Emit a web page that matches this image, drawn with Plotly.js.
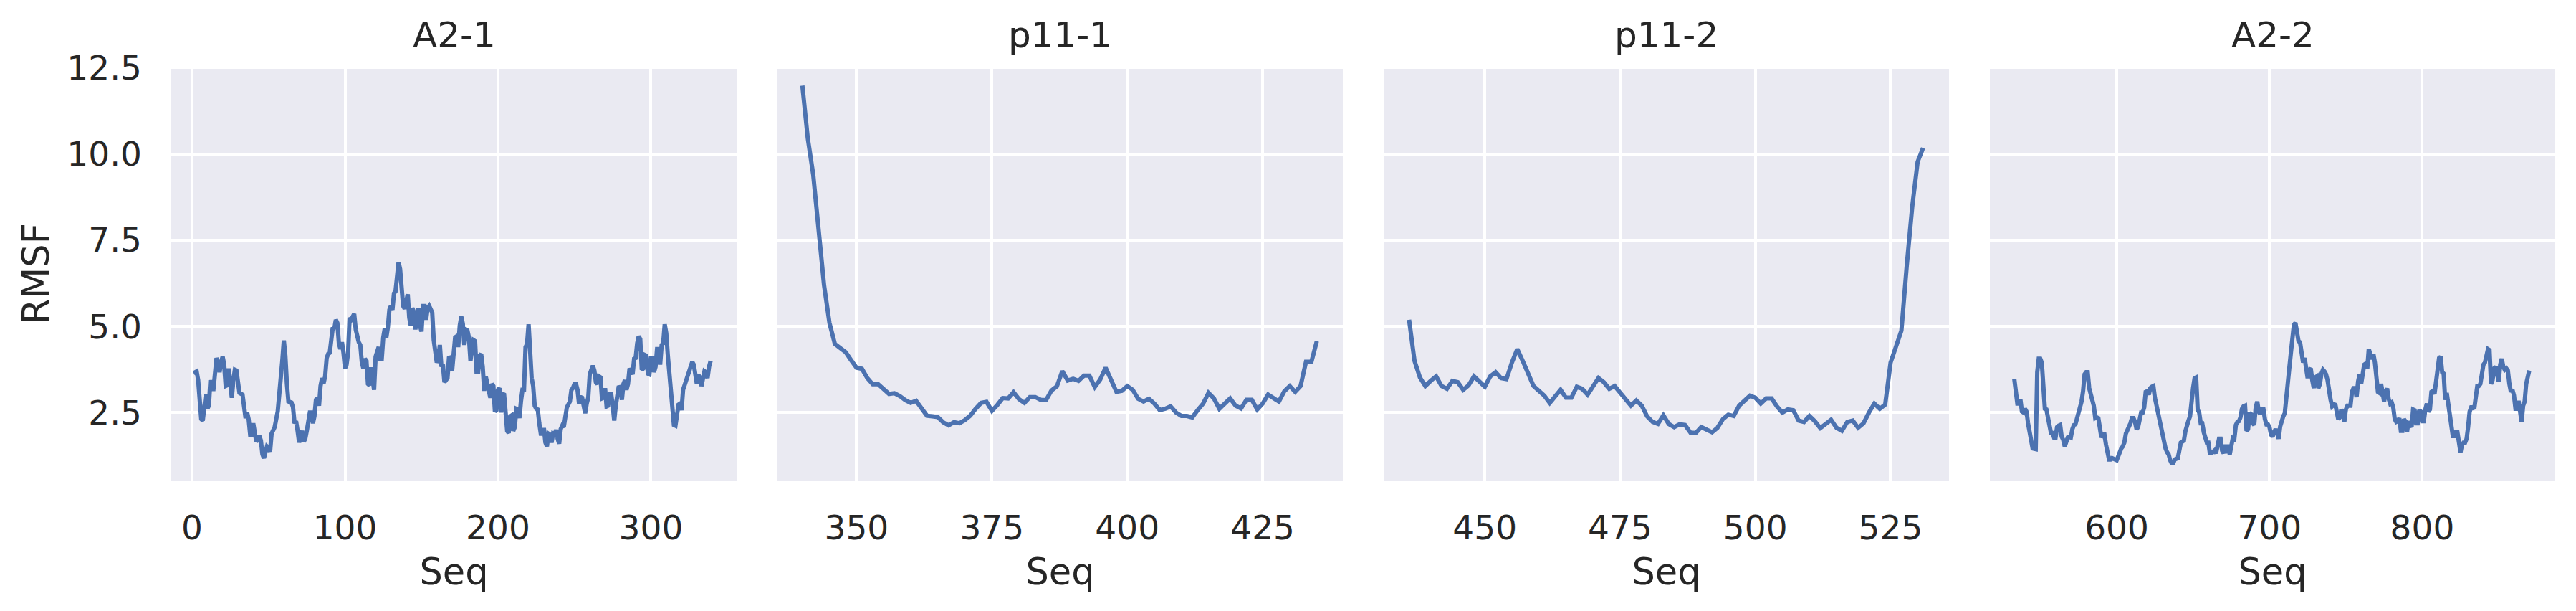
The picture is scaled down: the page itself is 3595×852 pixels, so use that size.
<!DOCTYPE html>
<html>
<head>
<meta charset="utf-8">
<script src="https://cdn.plot.ly/plotly-3.0.1.min.js"></script>
<style>html,body{margin:0;padding:0;background:#fff;}#chart{width:3595px;height:852px;}</style>
</head>
<body>
<div id="chart"></div>
<script>
// ---- Data ----
const panelTitles = ["A2-1", "p11-1", "p11-2", "A2-2"];

const seqA21 = [1,3,4,5,6,7,8,9,10,11,12,13,14,16,17,18,19,20,21,22,23,24,25,26,27,28,29,30,31,33,34,35,36,37,38,39,40,41,42,43,44,45,46,47,48,49,50,51,52,53,54,56,57,58,59,60,61,62,63,65,66,67,68,69,70,71,72,73,74,75,77,78,79,80,81,82,83,84,85,86,87,88,89,90,91,92,93,94,95,96,97,98,99,100,101,102,103,104,106,107,109,110,111,112,113,114,115,116,117,118,119,120,122,123,124,125,126,127,128,129,130,131,132,133,134,135,136,137,138,139,141,142,143,144,145,146,147,148,149,150,151,152,153,154,155,157,158,159,160,161,162,163,164,165,167,168,169,170,171,172,173,174,175,176,177,178,179,180,181,182,184,185,186,187,188,189,190,191,192,194,195,196,197,198,199,200,201,202,203,204,205,206,207,208,209,210,211,212,213,214,215,216,217,218,219,220,221,222,223,224,225,226,227,228,229,230,231,232,233,234,235,236,237,238,239,240,241,242,243,244,245,247,248,249,250,251,252,253,254,255,256,257,258,259,260,261,262,263,264,265,266,267,268,269,270,271,272,273,274,275,276,277,278,279,280,281,282,283,284,285,286,287,288,289,290,291,292,293,294,295,296,297,298,299,300,301,302,303,304,305,306,307,308,309,310,311,312,313,314,315,316,317,318,319,320,321,322,323,324,325,326,327,328,329,330,331,332,333,334,335,336,337,338,339];
const rmsfA21 = [3.64,3.69,3.44,2.82,2.31,2.27,2.82,3.02,2.61,2.70,3.44,3.18,3.18,4.08,3.95,3.67,3.97,4.12,3.89,3.27,3.29,3.78,3.33,2.93,3.44,3.74,3.72,3.33,3.07,3.02,2.53,2.34,2.50,2.31,1.86,1.86,2.19,1.78,1.66,1.71,1.82,1.69,1.29,1.18,1.35,1.52,1.48,1.37,1.89,2.02,2.08,2.53,2.93,3.38,4.00,4.59,4.15,3.33,2.82,2.79,2.65,2.19,2.25,1.97,1.63,1.82,1.97,1.66,1.74,1.97,2.50,2.50,2.19,2.39,2.87,2.91,2.70,3.27,3.50,3.35,3.55,4.08,4.20,4.23,4.74,4.97,4.93,5.19,5.10,4.51,4.34,4.54,4.23,3.78,3.89,4.23,5.25,5.19,5.36,4.91,4.54,4.46,3.95,3.78,4.06,4.00,3.33,3.29,3.81,3.55,3.16,4.12,4.40,4.06,4.06,4.68,4.94,4.68,4.97,5.48,5.59,5.48,5.96,6.01,6.49,6.86,6.66,6.04,5.59,5.51,5.93,5.25,5.02,5.53,5.42,4.91,5.31,5.53,5.02,4.85,5.59,5.59,5.19,5.53,5.59,5.40,4.60,4.10,3.95,4.05,4.46,3.83,3.89,3.38,3.50,4.12,4.08,3.72,4.08,4.68,4.71,4.40,5.02,5.28,5.08,4.46,4.91,4.88,4.68,4.00,4.60,4.57,3.67,3.67,4.15,4.20,3.83,3.13,3.55,3.16,2.93,3.33,3.27,2.53,2.57,3.16,3.21,2.50,3.04,3.02,2.48,1.97,1.91,2.39,2.42,1.97,2.08,2.61,2.59,2.34,2.82,3.16,3.16,4.40,4.49,5.06,4.29,3.50,3.27,2.70,2.61,2.59,2.19,1.89,1.89,2.05,1.63,1.52,1.89,1.86,1.63,1.89,1.86,2.00,1.74,1.60,2.02,2.12,2.08,2.39,2.65,2.82,3.16,3.21,3.33,3.33,3.16,2.76,2.95,2.93,2.61,2.48,2.76,2.93,3.61,3.78,3.86,3.72,3.38,3.33,3.55,3.52,2.91,2.93,3.21,2.68,2.70,3.04,3.04,2.70,2.27,2.70,3.04,3.27,3.21,2.87,3.33,3.44,3.16,3.33,3.78,3.70,3.61,4.06,4.08,4.51,4.71,4.63,3.74,3.78,4.17,4.15,3.63,3.61,4.08,4.08,3.67,3.83,4.34,4.34,3.89,4.46,4.51,5.06,4.80,4.17,3.61,3.10,2.45,2.14,2.12,2.39,2.73,2.76,2.57,3.16,3.29,3.44,3.55,3.67,3.78,3.97,3.89,3.47,3.33,3.59,3.52,3.27,3.44,3.70,3.67,3.50,3.83,4.00];

const seqP111 = [340,341,342,343,344,345,346,347,348,349,350,351,352,353,354,355,356,357,358,359,360,361,362,363,364,365,366,367,368,369,370,371,372,373,374,375,376,377,378,379,380,381,382,383,384,385,386,387,388,389,390,391,392,393,394,395,396,397,398,399,400,401,402,403,404,405,406,407,408,409,410,411,412,413,414,415,416,417,418,419,420,421,422,423,424,425,426,427,428,429,430,431,432,433,434,435];
const rmsfP111 = [11.98,10.45,9.40,7.75,6.20,5.10,4.49,4.37,4.25,4.02,3.80,3.77,3.50,3.32,3.32,3.18,3.04,3.06,2.98,2.86,2.78,2.84,2.63,2.41,2.39,2.37,2.22,2.13,2.22,2.19,2.28,2.41,2.61,2.78,2.81,2.55,2.72,2.92,2.91,3.09,2.89,2.78,2.95,2.95,2.87,2.86,3.14,3.26,3.70,3.43,3.48,3.42,3.57,3.57,3.24,3.46,3.80,3.42,3.10,3.13,3.27,3.16,2.90,2.82,2.90,2.76,2.57,2.61,2.68,2.50,2.40,2.40,2.36,2.57,2.76,3.07,2.91,2.61,2.76,2.91,2.70,2.62,2.87,2.87,2.59,2.76,3.02,2.91,2.82,3.12,3.27,3.10,3.27,3.97,3.97,4.57];

const seqP112 = [436,437,438,439,440,441,442,443,444,445,446,447,448,449,450,451,452,453,454,455,456,457,458,459,460,461,462,463,464,465,466,467,468,469,470,471,472,473,474,475,476,477,478,479,480,481,482,483,484,485,486,487,488,489,490,491,492,493,494,495,496,497,498,499,500,501,502,503,504,505,506,507,508,509,510,511,512,513,514,515,516,517,518,519,520,521,522,523,524,525,526,527,528,529,530,531];
const rmsfP112 = [5.19,4.00,3.52,3.27,3.42,3.55,3.27,3.19,3.42,3.38,3.16,3.29,3.55,3.40,3.25,3.55,3.67,3.50,3.47,3.95,4.34,4.00,3.67,3.27,3.13,2.99,2.78,2.95,3.16,2.93,2.93,3.25,3.19,3.02,3.29,3.50,3.38,3.19,3.27,3.07,2.87,2.70,2.85,2.70,2.39,2.23,2.17,2.42,2.17,2.08,2.16,2.14,1.92,1.91,2.08,1.99,1.93,2.06,2.31,2.44,2.40,2.70,2.85,2.99,2.93,2.76,2.91,2.91,2.68,2.50,2.59,2.57,2.27,2.23,2.40,2.25,2.05,2.16,2.29,2.06,1.97,2.23,2.27,2.06,2.19,2.50,2.76,2.61,2.73,3.95,4.46,4.88,6.78,8.47,9.77,10.17];

const seqA22 = [533,534,535,536,537,538,539,540,541,542,543,544,545,547,548,549,550,551,552,553,554,555,556,557,558,559,560,561,562,563,564,565,566,567,568,569,570,571,572,573,574,575,576,577,578,579,580,581,582,583,584,585,586,587,588,589,590,591,592,593,594,595,596,597,599,600,601,602,603,604,605,606,607,608,609,610,611,612,613,614,615,616,617,618,619,620,621,622,623,624,625,626,627,628,629,630,631,632,633,634,635,636,637,638,640,641,642,643,644,645,646,647,648,649,650,651,652,653,654,655,656,657,658,659,660,661,662,663,664,665,666,667,668,669,670,671,672,673,674,675,676,677,678,679,680,681,682,683,684,685,686,687,688,689,690,691,692,693,694,695,696,697,698,699,700,701,702,703,704,705,706,707,708,709,710,711,712,713,714,715,716,717,718,719,720,721,722,723,724,725,726,727,728,729,730,731,732,733,734,735,736,737,738,739,740,741,742,743,744,745,746,747,748,749,750,751,752,753,754,755,756,757,758,759,760,761,762,763,764,765,766,767,768,769,770,771,772,773,774,775,776,777,778,779,780,781,782,783,784,785,786,787,788,789,790,791,792,793,794,795,796,797,798,799,800,801,802,803,804,805,806,807,808,809,810,811,812,813,814,815,816,817,818,819,820,821,822,823,824,825,826,827,828,829,830,831,832,833,834,835,836,837,838,839,840,841,842,843,844,845,846,847,848,849,850,851,852,853,854,855,856,857,858,859,860,861,862,863,864,865,866,867,868,869,870];
const rmsfA22 = [3.47,3.10,2.76,2.76,2.87,2.53,2.50,2.61,2.53,2.19,1.93,1.63,1.46,1.44,3.67,4.06,4.06,3.95,3.27,2.61,2.59,2.36,2.12,1.91,1.91,1.78,1.78,2.08,2.12,2.14,1.80,1.71,1.52,1.63,1.78,1.80,1.78,2.02,2.14,2.16,2.31,2.57,2.70,2.82,3.12,3.61,3.67,3.67,3.21,3.00,2.93,2.70,2.34,2.36,2.34,1.91,1.78,1.86,1.86,1.57,1.40,1.14,1.14,1.18,1.14,1.12,1.23,1.37,1.46,1.52,1.63,1.89,1.97,2.05,2.19,2.34,2.34,2.23,2.02,2.08,2.31,2.50,2.50,2.65,3.10,3.12,3.02,3.21,3.25,3.27,2.93,2.70,2.50,2.23,2.02,1.89,1.69,1.46,1.35,1.29,1.12,1.03,1.03,1.14,1.18,1.37,1.63,1.66,1.69,1.97,2.19,2.27,2.39,2.93,3.21,3.50,3.52,2.59,2.50,2.19,2.19,1.93,1.71,1.63,1.63,1.32,1.32,1.37,1.40,1.32,1.52,1.74,1.74,1.40,1.32,1.57,1.32,1.57,1.29,1.63,1.76,1.74,2.14,2.23,2.25,2.36,2.61,2.68,2.70,1.97,2.02,2.50,2.45,2.20,2.14,2.65,2.82,2.53,2.45,2.61,2.61,2.31,2.16,2.16,2.08,1.86,1.80,1.93,2.02,1.91,1.74,2.10,2.31,2.39,2.48,3.04,3.40,3.80,4.23,4.60,5.05,5.10,4.85,4.57,4.54,4.15,3.95,4.08,3.83,3.50,3.74,3.78,3.44,3.21,3.52,3.55,3.21,3.33,3.63,3.74,3.69,3.61,3.44,3.04,2.87,2.68,2.73,2.76,2.53,2.31,2.36,2.59,2.50,2.24,2.59,2.70,2.70,2.70,3.10,3.21,3.21,2.95,3.40,3.61,3.33,3.67,3.89,3.92,3.78,4.34,4.15,4.05,4.20,3.95,3.52,3.10,3.07,3.33,3.10,2.82,3.10,3.20,2.90,2.76,2.79,2.65,2.31,2.23,2.25,2.34,1.97,1.97,2.31,2.25,1.93,2.25,2.14,2.08,2.59,2.57,2.19,2.19,2.57,2.53,2.25,2.25,2.59,2.76,2.53,2.59,3.10,3.13,3.04,3.40,3.89,4.08,4.12,3.67,3.63,2.87,3.07,2.70,2.40,2.14,1.82,1.82,1.93,1.93,1.50,1.35,1.57,1.63,1.63,1.74,2.08,2.53,2.65,2.65,2.61,2.87,3.27,3.27,3.33,3.61,3.89,3.95,4.15,4.34,4.31,3.33,3.44,3.78,3.83,3.55,3.40,3.89,4.06,3.83,3.74,3.78,3.72,3.33,3.10,3.16,3.00,2.61,2.61,2.84,2.48,2.23,2.70,2.82,3.33,3.55,3.72];

const xTickVals = [[0,100,200,300],[350,375,400,425],[450,475,500,525],[600,700,800]];
const xRanges = [[-13.6,356],[335.4,439.8],[431.3,535.8],[517,887]];
const yTickVals = [2.5,5,7.5,10,12.5];
const xLabel = "Seq";
const yLabel = "RMSF";

// ---- Build figure ----
const seqs = [seqA21, seqP111, seqP112, seqA22];
const vals = [rmsfA21, rmsfP111, rmsfP112, rmsfA22];

const W = 3595, H = 852;
const mL = 239, mR = 29, mT = 92, mB = 181;
const pw = W - mL - mR;
const panelPx = [[239,1028],[1085,1874],[1931,2720],[2777,3566]];
const domains = panelPx.map(p => [(p[0]-mL)/pw, (p[1]-mL)/pw]);

const FONT = "DejaVu Sans";
const TXT = "#262626";

const traces = seqs.map((s, i) => ({
  type: "scatter", mode: "lines",
  x: s, y: vals[i],
  xaxis: i === 0 ? "x" : "x" + (i+1),
  yaxis: i === 0 ? "y" : "y" + (i+1),
  line: {color: "#4C72B0", width: 6},
  showlegend: false, hoverinfo: "skip"
}));

const layout = {
  width: W, height: H,
  margin: {l: mL, r: mR, t: mT, b: mB, pad: 0},
  paper_bgcolor: "#ffffff",
  plot_bgcolor: "#EAEAF2",
  font: {family: FONT, color: TXT, size: 47},
  showlegend: false,
  annotations: []
};

for (let i = 0; i < 4; i++) {
  const xk = i === 0 ? "xaxis" : "xaxis" + (i+1);
  const yk = i === 0 ? "yaxis" : "yaxis" + (i+1);
  const yid = i === 0 ? "y" : "y" + (i+1);
  const xid = i === 0 ? "x" : "x" + (i+1);
  layout[xk] = {
    domain: domains[i], anchor: yid,
    range: xRanges[i], tickvals: xTickVals[i],
    ticks: "", showline: false, zeroline: false,
    showgrid: true, gridcolor: "#ffffff", gridwidth: 4,
    tickfont: {family: FONT, size: 47, color: TXT},
    ticklabelstandoff: 33,
    title: {text: xLabel, font: {family: FONT, size: 51, color: TXT}, standoff: 17}
  };
  layout[yk] = {
    domain: [0, 1], anchor: xid,
    range: [0.51, 12.55], tickvals: yTickVals, tickformat: ".1f",
    ticks: "", showline: false, zeroline: false,
    showgrid: true, gridcolor: "#ffffff", gridwidth: 4,
    showticklabels: i === 0,
    tickfont: {family: FONT, size: 47, color: TXT},
    ticklabelstandoff: 40
  };
  if (i > 0) layout[yk].matches = "y";
  if (i === 0) layout[yk].title = {text: yLabel, font: {family: FONT, size: 51, color: TXT}, standoff: 8};
  layout.annotations.push({
    text: panelTitles[i], xref: "paper", yref: "paper",
    x: (domains[i][0] + domains[i][1]) / 2, y: (H - mB - 68) / (H - mT - mB),
    xanchor: "center", yanchor: "bottom", yshift: -12, showarrow: false,
    font: {family: FONT, size: 50, color: TXT}
  });
}

Plotly.newPlot("chart", traces, layout, {staticPlot: true, displayModeBar: false});
</script>
</body>
</html>
